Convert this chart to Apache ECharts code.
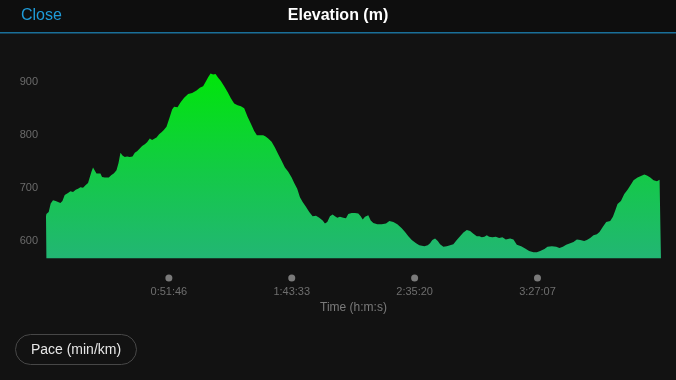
<!DOCTYPE html>
<html>
<head>
<meta charset="utf-8">
<style>
  html, body { margin: 0; padding: 0; background: #121212; }
  #chart { width: 676px; height: 380px; }
</style>
<script src="https://cdn.jsdelivr.net/npm/echarts@6/dist/echarts.min.js"></script>
</head>
<body>
<div id="chart"></div>
<script>
// Elapsed time (seconds) for each sample
const times = [0,10,68,119,177,245,304,364,415,473,557,618,683,752,810,871,936,1005,1063,1106,
1149,1189,1232,1276,1326,1377,1417,1486,1529,1587,1655,1713,1782,1832,1883,1934,1992,2050,2118,2187,
2245,2303,2371,2430,2498,2556,2624,2683,2733,2794,2860,2921,2979,3047,3131,3189,3239,3325,3409,3493,
3594,3695,3806,3890,3973,4034,4100,4161,4226,4287,4353,4421,4505,4591,4674,4758,4844,4928,5011,5097,
5181,5264,5332,5408,5492,5553,5618,5704,5788,5872,5957,6041,6125,6211,6276,6352,6421,6489,6572,6656,
6742,6826,6909,6995,7053,7112,7180,7248,7306,7365,7433,7516,7585,7643,7729,7813,7896,7957,8008,8066,
8149,8210,8276,8377,8488,8597,8681,8782,8883,8995,9078,9162,9248,9357,9440,9483,9566,9652,9711,9769,
9837,9906,9964,10047,10133,10217,10300,10386,10470,10554,10640,10723,10806,10892,10958,11019,11085,11146,11204,11287,
11373,11457,11540,11626,11735,11819,11905,12014,12115,12216,12325,12411,12495,12603,12680,12791,12900,12983,13069,13153,
13254,13337,13423,13507,13608,13676,13760,13843,13929,13995,14081,14165,14266,14334,14393,14451,14537,14621,14704,14790,
14856,14957,15043,15127,15195,15278,15362,15448,15514,15549];

// Elevation (m) for each sample
const elevations = [646,650,654,670,676,675,673,671,675,686,690,693,692,696,698,701,700,705,709,709,
730,738,736,727,724,727,720,719,722,719,724,727,733,746,766,761,758,759,758,759,
766,769,774,779,782,786,793,790,788,795,801,805,809,815,834,848,853,852,862,870,
877,879,884,889,892,900,909,916,914,915,908,902,892,881,869,859,856,854,850,834,
821,807,799,799,799,797,793,787,776,763,751,738,730,719,709,698,682,673,664,654,
646,647,643,638,632,635,646,649,646,643,645,643,642,650,652,652,651,646,640,645,
648,638,633,631,631,632,637,635,631,623,616,608,601,595,591,591,589,591,595,601,
604,599,593,588,589,591,593,601,608,615,620,618,613,608,608,606,607,610,607,606,
607,605,606,602,604,602,592,589,585,580,578,578,580,584,588,589,588,586,588,592,
595,597,602,601,599,601,605,610,612,616,626,635,637,645,657,669,675,688,696,706,
714,719,722,725,723,719,714,712,715,715];

// Axis ticks
const timeTickStep = 3106.75;          // 0:51:46.75
const timeMax = 15550;
const elevMin = 566;
const elevMax = 950;
const elevTicks = [600, 700, 800, 900];

function fmtTime(v) {
  const s = Math.floor(v + 1e-6);
  const h = Math.floor(s / 3600);
  const m = Math.floor((s % 3600) / 60);
  const sec = s % 60;
  return h + ':' + String(m).padStart(2, '0') + ':' + String(sec).padStart(2, '0');
}

const seriesData = times.map((t, i) => [t, elevations[i]]);
const FONT = 'Liberation Sans, Arial, Helvetica, sans-serif';

const chart = echarts.init(document.getElementById('chart'), null, { renderer: 'canvas' });
chart.setOption({
  backgroundColor: '#121212',
  animation: false,
  textStyle: { fontFamily: FONT },
  grid: { left: 46, right: 15, top: 55.5, bottom: 121.5 },
  xAxis: {
    type: 'value',
    min: 0,
    max: timeMax,
    interval: timeTickStep,
    axisLine: { show: false },
    axisTick: { show: false },
    splitLine: { show: false },
    name: 'Time (h:m:s)',
    nameLocation: 'middle',
    nameGap: 43,
    nameTextStyle: { color: '#7a7a7a', fontSize: 12, fontFamily: FONT },
    axisLabel: {
      margin: 16,
      showMinLabel: false,
      showMaxLabel: false,
      formatter: function (v) {
        if (v < 1 || v > timeMax - 1000) return '';
        return '{dot| }\n{t|' + fmtTime(v) + '}';
      },
      rich: {
        dot: { width: 7, height: 7, lineHeight: 7, borderRadius: 3.5, backgroundColor: '#7a7a7a' },
        t: { fontSize: 11, lineHeight: 20, color: '#6e6e6e', fontFamily: FONT }
      }
    }
  },
  yAxis: {
    type: 'value',
    min: elevMin,
    max: elevMax,
    splitNumber: 4,
    axisLine: { show: false },
    axisTick: { show: false },
    splitLine: { show: false },
    axisLabel: {
      margin: 8,
      fontSize: 11,
      color: '#6b6b6b',
      fontFamily: FONT,
      formatter: function (v) { return elevTicks.indexOf(v) >= 0 ? String(v) : ''; }
    }
  },
  series: [{
    type: 'line',
    data: seriesData,
    showSymbol: false,
    smooth: false,
    lineStyle: { width: 0 },
    areaStyle: {
      origin: 'start',
      opacity: 1,
      color: new echarts.graphic.LinearGradient(0, 0, 0, 1, [
        { offset: 0, color: '#00e60a' },
        { offset: 0.55, color: '#14c948' },
        { offset: 1, color: '#22b674' }
      ])
    }
  }],
  graphic: [
    { type: 'rect', left: 0, top: 0, shape: { width: 676, height: 32 }, style: { fill: '#0e0e0e' }, z: 1 },
    { type: 'rect', left: 0, top: 32, shape: { width: 676, height: 1.5 }, style: { fill: '#1a6f99' }, z: 2 },
    { type: 'text', x: 21, y: 16, style: { text: 'Close', fill: '#1f9bd8', font: '16px ' + FONT, textVerticalAlign: 'middle' }, z: 3 },
    { type: 'text', x: 338, y: 16, style: { text: 'Elevation (m)', fill: '#ffffff', font: 'bold 16px ' + FONT, textAlign: 'center', textVerticalAlign: 'middle' }, z: 3 },
    { type: 'rect', shape: { x: 15.5, y: 334.5, width: 121, height: 30, r: 15 }, style: { fill: 'transparent', stroke: '#474747', lineWidth: 1 }, z: 3 },
    { type: 'text', x: 76, y: 350, style: { text: 'Pace (min/km)', fill: '#e6e6e6', font: '14px ' + FONT, textAlign: 'center', textVerticalAlign: 'middle' }, z: 3 }
  ]
});
</script>
</body>
</html>
